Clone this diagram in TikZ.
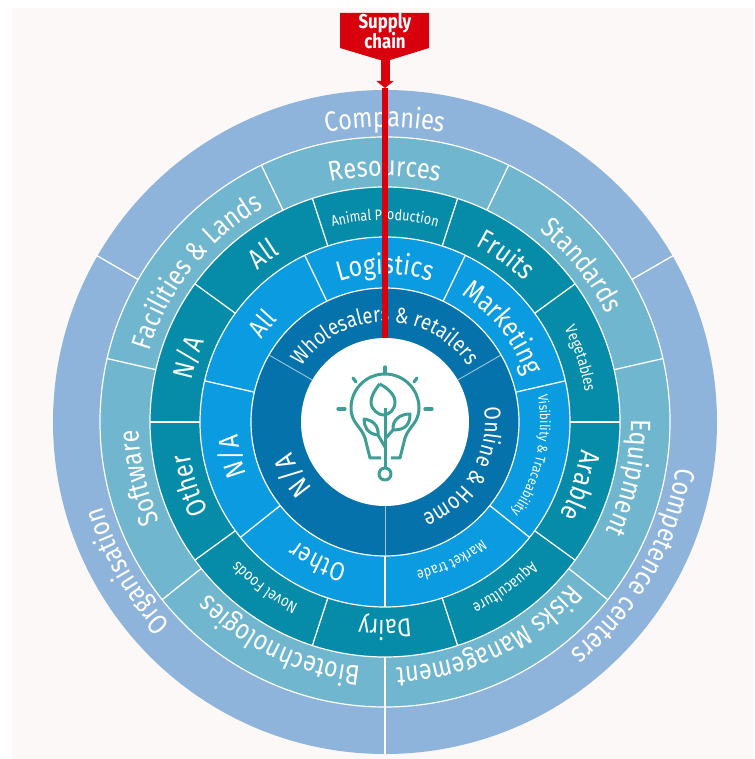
\documentclass[tikz,border=0pt]{standalone}
\usepackage{fontspec}
\setmainfont{Fira Sans}[FakeStretch=0.84]
\usetikzlibrary{decorations.text,arrows.meta}
\definecolor{paper}{HTML}{FCF8F8}
\definecolor{ringA}{HTML}{0672AB}
\definecolor{ringB}{HTML}{0A9BE0}
\definecolor{ringC}{HTML}{068CA8}
\definecolor{ringD}{HTML}{70B6CF}
\definecolor{ringE}{HTML}{8FB4DB}
\definecolor{chainred}{HTML}{D9000D}
\definecolor{sprout}{HTML}{3E9E94}
\tikzset{
	ring/.style={draw=white,line width=1.2pt},
	divider/.style={draw=white,line width=1.3pt},
	thindivider/.style={draw=white!60!ringA,line width=0.9pt},
	icon/.style={draw=sprout,line width=3pt,line join=round},
	ray/.style={draw=sprout,line width=3.2pt,line cap=round},
}
\newcommand{\ringlabel}[4]{%
	\path[decorate,decoration={text along path,text align=center,
		text={|\fontsize{#1}{#1}\selectfont\color{white}|#4}}]
		(#3+90:#2) arc[start angle=#3+90,end angle=#3-90,radius=#2];}
\begin{document}
\begin{tikzpicture}[x=1pt,y=1pt]
	\useasboundingbox (-385,-337) rectangle (369,422);
	\fill[white] (-385,-337) rectangle (369,422);
	\fill[paper] (-373,-337) rectangle (369,414);
	% rings, outside first
	\fill[ringE] (0,0) circle (332);
	\filldraw[ring,fill=ringD] (0,0) circle (285);
	\filldraw[ring,fill=ringC] (0,0) circle (235);
	\filldraw[ring,fill=ringB] (0,0) circle (185);
	\filldraw[ring,fill=ringA] (0,0) circle (134);
	\fill[white] (0,0) circle (84);
	% dividers
	\foreach \a in {30,150,270} \draw[divider] (\a:285) -- (\a:333);
	\foreach \k in {0,...,6} \draw[divider] (115.71+\k*51.43:235) -- (115.71+\k*51.43:285);
	\foreach \a in {0,36,...,324} \draw[divider] (\a+36:185) -- (\a+36:235);
	\foreach \k in {0,...,6} \draw[divider] (115.71+\k*51.43:134) -- (115.71+\k*51.43:185);
	\foreach \a in {30,150,270} \draw[thindivider] (\a:84) -- (\a:134);
	% outer ring
	\ringlabel{28}{295}{90}{Companies}
	\ringlabel{28}{295}{-30}{Competence centers}
	\ringlabel{28}{295}{210}{Organisation}
	% second ring
	\ringlabel{28}{246}{90}{Resources}
	\ringlabel{28}{246}{38.57}{Standards}
	\ringlabel{28}{246}{-12.86}{Equipment}
	\ringlabel{28}{246}{-64.29}{Risks Management}
	\ringlabel{28}{246}{-115.71}{Biotechnologies}
	\ringlabel{28}{246}{-167.14}{Software}
	\ringlabel{28}{246}{141.43}{Facilities {\&} Lands}
	% third ring
	\ringlabel{15}{202}{90}{Animal Production}
	\ringlabel{28}{198}{54}{Fruits}
	\ringlabel{16}{202}{18}{Vegetables}
	\ringlabel{28}{198}{-18}{Arable}
	\ringlabel{16}{202}{-54}{Aquaculture}
	\ringlabel{26}{198}{-90}{Dairy}
	\ringlabel{16}{202}{-126}{Novel Foods}
	\ringlabel{28}{198}{-162}{Other}
	\ringlabel{28}{198}{162}{N/A}
	\ringlabel{28}{198}{126}{All}
	% fourth ring
	\ringlabel{28}{148}{90}{Logistics}
	\ringlabel{28}{148}{38.57}{Marketing}
	\ringlabel{14}{155}{-12.86}{Visibility {\&} Traceability}
	\ringlabel{15}{152}{-64.29}{Market trade}
	\ringlabel{26}{148}{-115.71}{Other}
	\ringlabel{28}{148}{-167.14}{N/A}
	\ringlabel{26}{148}{141.43}{All}
	% inner ring
	\ringlabel{22}{100}{90}{Wholesalers {\&} retailers}
	\ringlabel{23}{100}{-30}{Online {\&} Home}
	\ringlabel{28}{98}{210}{N/A}
	% lamp with sprout
	\draw[icon] (-4,-36) -- (-15,-36) -- (-20,-16) .. controls (-24,-4) and (-34,-1) .. (-34,14)
		arc[start angle=180,end angle=0,radius=34] .. controls (34,-1) and (24,-4) .. (20,-16) -- (15,-36) -- (6,-36);
	\draw[icon] (0,14) -- (0,-45);
	\draw[icon] (0,-52) circle (6);
	\draw[icon] (-5.5,38) .. controls (-10,32) and (-14,26) .. (-14,20) .. controls (-14,12) and (-6,7) .. (-2,7)
		.. controls (4,7) and (10,12) .. (10,20) .. controls (10,27) and (3,34) .. (-5.5,38);
	\draw[icon] (0,-25) -- (-7,-13) .. controls (-18,-12) and (-21,-4) .. (-21,3) .. controls (-13,2) and (-6,-3) .. (-7,-13);
	\draw[icon] (0,-17) -- (8,-8) .. controls (21,-8) and (25,-2) .. (25,8) .. controls (15,8) and (7,2) .. (8,-8);
	\draw[ray] (0,55) -- (0,49);
	\draw[ray] (-32,44) -- (-29,40);
	\draw[ray] (32,44) -- (29,40);
	\draw[ray] (-47,13) -- (-40,13);
	\draw[ray] (47,13) -- (40,13);
	% supply chain tag
	\coordinate (hub) at (0,84);
	\coordinate (barb) at (0,334);
	\fill[chainred] (-45,409) -- (44,409) -- (44,374) -- (5,362) -- (-5,362) -- (-45,374) -- cycle;
	\node[text=white,font=\fontsize{20}{20}\bfseries,align=center,inner sep=0pt] (tag) at (0,391) {Supply\\[-1pt]chain};
	\draw[chainred,line width=9pt,-{Triangle[width=17pt,length=7pt]}] (tag.south) -- (barb);
	\draw[chainred,line width=5.5pt] (barb) -- (hub);
\end{tikzpicture}
\end{document}
